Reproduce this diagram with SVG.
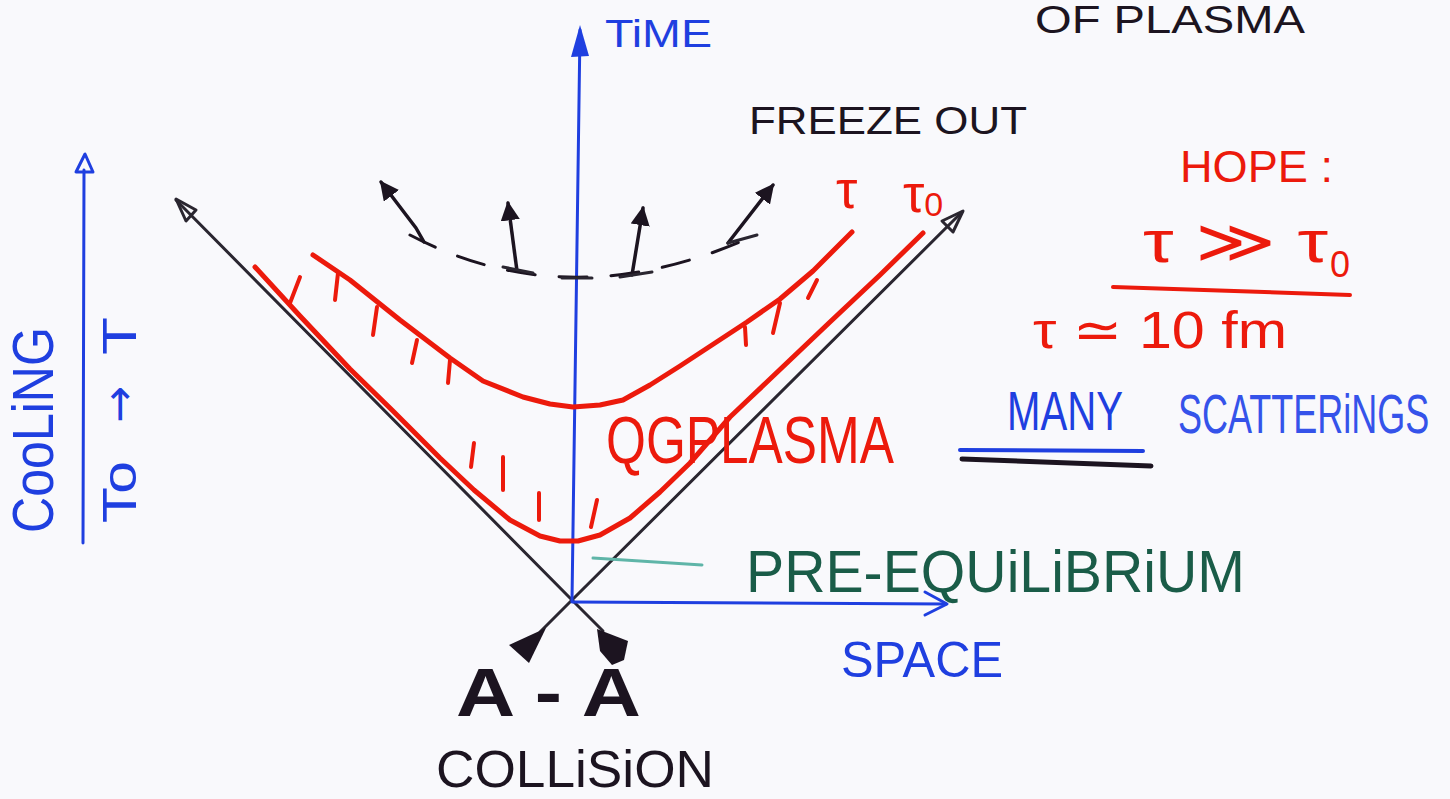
<svg xmlns="http://www.w3.org/2000/svg" width="1450" height="799" viewBox="0 0 1450 799">
<defs>
<style>
.bg{fill:#f9f9fc}
.red{fill:none;stroke:#ec1a0c;stroke-width:5;stroke-linecap:round;stroke-linejoin:round}
.tick{fill:none;stroke:#ec1a0c;stroke-width:4;stroke-linecap:round}
.blk{fill:none;stroke:#2a2630;stroke-width:3;stroke-linecap:round;stroke-linejoin:round}
.fa{fill:none;stroke:#1c1420;stroke-width:3.5;stroke-linecap:round;stroke-linejoin:round}
.blue{fill:none;stroke:#1f3fe0;stroke-width:3;stroke-linecap:round;stroke-linejoin:round}
.t{font-family:"Liberation Sans","DejaVu Sans",sans-serif}
.tr{fill:#ec1a0c}
.tb{fill:#1f3fe0}
.tk{fill:#1c1420}
.tg{fill:#1a5c48}
</style>
<marker id="ah" viewBox="0 0 10 10" refX="9" refY="5" markerWidth="5.5" markerHeight="5.5" orient="auto">
<path d="M0,0 L10,5 L0,10 z" fill="#1c1420"/>
</marker>
</defs>
<rect class="bg" x="0" y="0" width="1450" height="799"/>

<g id="connectors">
<!-- light cone -->
<line class="blk" x1="572" y1="600" x2="176" y2="200"/>
<polygon class="blk" points="176,199 196,210 186,221"/>
<line class="blk" x1="572" y1="600" x2="962" y2="212"/>
<polygon class="blk" points="963,211 953,232 942,221"/>
<line class="blk" x1="572" y1="600" x2="540" y2="632"/>
<polygon points="509,645 546,628 529,663" fill="#1c1420"/>
<line class="blk" x1="572" y1="600" x2="603" y2="631"/>
<polygon points="597,629 628,641 624,660 612,665 600,651" fill="#1c1420"/>
<!-- time axis -->
<line class="blue" x1="572" y1="601" x2="580" y2="30"/>
<polygon points="580,25 571,57 589,56" fill="#1f3fe0"/>
<!-- space axis -->
<line class="blue" x1="572" y1="602" x2="946" y2="604"/>
<polyline class="blue" points="925,592 947,604 925,615"/>
<!-- cooling axis -->
<line class="blue" x1="83" y1="543" x2="84" y2="170"/>
<polygon class="blue" points="85,154 76,172 93,172"/>
<!-- pre-equilibrium pointer -->
<line x1="593" y1="558" x2="702" y2="565" stroke="#5fb5a8" stroke-width="3" stroke-linecap="round"/>
<!-- freeze-out dashed curve -->
<path d="M410,235 Q572,320 758,234" fill="none" stroke="#1c1420" stroke-width="3" stroke-dasharray="28,24" stroke-linecap="round"/>
<!-- freeze-out arrows -->
<polyline class="fa" points="424,242 416,228 381,182" marker-end="url(#ah)"/>
<line class="fa" x1="517" y1="271" x2="508" y2="203" marker-end="url(#ah)"/>
<line class="blk" x1="503" y1="267" x2="533" y2="273"/>
<line class="fa" x1="632" y1="275" x2="643" y2="208" marker-end="url(#ah)"/>
<line class="blk" x1="620" y1="277" x2="652" y2="272"/>
<line class="fa" x1="728" y1="243" x2="773" y2="185" marker-end="url(#ah)"/>
<line class="blk" x1="728" y1="243" x2="757" y2="235"/>
<line class="blk" x1="562" y1="278" x2="592" y2="278"/>
<!-- underlines -->
<line x1="960" y1="450" x2="1143" y2="451" stroke="#1f3fe0" stroke-width="4" stroke-linecap="round"/>
<line x1="962" y1="459" x2="1151" y2="466" stroke="#1c1420" stroke-width="5" stroke-linecap="round"/>
<line x1="1113" y1="287" x2="1350" y2="295" stroke="#ec1a0c" stroke-width="4" stroke-linecap="round"/>
</g>

<g id="tau-curve">
<polyline class="red" points="313,255 350,280 400,320 450,358 483,381 523,397 550,404 573,407 600,405 623,400 650,385 680,366 747,322 780,299 813,271 852,232"/>
<line class="tick" x1="338" y1="273" x2="335" y2="300"/>
<line class="tick" x1="377" y1="307" x2="373" y2="335"/>
<line class="tick" x1="417" y1="340" x2="412" y2="363"/>
<line class="tick" x1="450" y1="360" x2="448" y2="383"/>
<line class="tick" x1="745" y1="327" x2="746" y2="345"/>
<line class="tick" x1="780" y1="303" x2="773" y2="333"/>
<line class="tick" x1="817" y1="280" x2="808" y2="298"/>
</g>

<g id="tau0-curve">
<polyline class="red" points="255,267 300,316 350,369 393,411 440,458 474,490 510,520 540,536 560,541 578,541 600,535 630,518 660,492 690,463 710,440 730,417 750,398 790,360 830,322 880,275 923,233"/>
<line class="tick" x1="290" y1="303" x2="300" y2="277"/>
<line class="tick" x1="474" y1="443" x2="471" y2="467"/>
<line class="tick" x1="503" y1="457" x2="503" y2="490"/>
<line class="tick" x1="539" y1="493" x2="539" y2="520"/>
<line class="tick" x1="597" y1="500" x2="591" y2="527"/>
</g>

<g id="labels">
<text class="t tk" x="1035" y="33" font-size="38" textLength="270" lengthAdjust="spacingAndGlyphs">OF PLASMA</text>
<text class="t tb" x="605" y="47" font-size="38" textLength="107" lengthAdjust="spacingAndGlyphs">TiME</text>
<text class="t tk" x="749" y="134" font-size="39" textLength="278" lengthAdjust="spacingAndGlyphs">FREEZE OUT</text>
<text class="t tr" x="836" y="208" font-size="54">τ</text>
<text class="t tr" x="903" y="212" font-size="54">τ<tspan font-size="34" dy="4">0</tspan></text>
<text class="t tr" x="1180" y="182" font-size="45" textLength="153" lengthAdjust="spacingAndGlyphs">HOPE :</text>
<text class="t tr" x="1143" y="262" font-size="60" textLength="185" lengthAdjust="spacingAndGlyphs">τ ≫ τ</text>
<text class="t tr" x="1330" y="277" font-size="36">0</text>
<text class="t tr" x="1033" y="348" font-size="52" textLength="254" lengthAdjust="spacingAndGlyphs">τ ≃ 10 fm</text>
<text class="t tr" x="606" y="463" font-size="66" textLength="288" lengthAdjust="spacingAndGlyphs">QGPLASMA</text>
<text class="t tb" x="1007" y="430" font-size="56" textLength="116" lengthAdjust="spacingAndGlyphs">MANY</text>
<text class="t" fill="#3553ea" transform="translate(1178,433) scale(1,1.55)" x="0" y="0" font-size="36">SCATTERiNGS</text>
<text class="t tg" x="746" y="592" font-size="60" textLength="499" lengthAdjust="spacingAndGlyphs">PRE-EQUiLiBRiUM</text>
<text class="t tb" x="841" y="677" font-size="50" textLength="162" lengthAdjust="spacingAndGlyphs">SPACE</text>
<text class="t tk" x="456" y="716" font-size="68" font-weight="bold" textLength="185" lengthAdjust="spacingAndGlyphs">A - A</text>
<text class="t tk" x="436" y="787" font-size="52" textLength="278" lengthAdjust="spacingAndGlyphs">COLLiSiON</text>
<text class="t tb" transform="translate(53,533) rotate(-90)" x="0" y="0" font-size="58" textLength="206" lengthAdjust="spacingAndGlyphs">CooLiNG</text>
<g transform="translate(136,523) rotate(-90)">
<text class="t tb" x="0" y="0" font-size="48" textLength="62" lengthAdjust="spacingAndGlyphs">To</text>
<text x="100" y="-2" font-size="44" fill="#1f3fe0" font-family="'DejaVu Sans',sans-serif">→</text>
<text class="t tb" x="168" y="0" font-size="48" textLength="38" lengthAdjust="spacingAndGlyphs">T</text>
</g>
</g>
</svg>
